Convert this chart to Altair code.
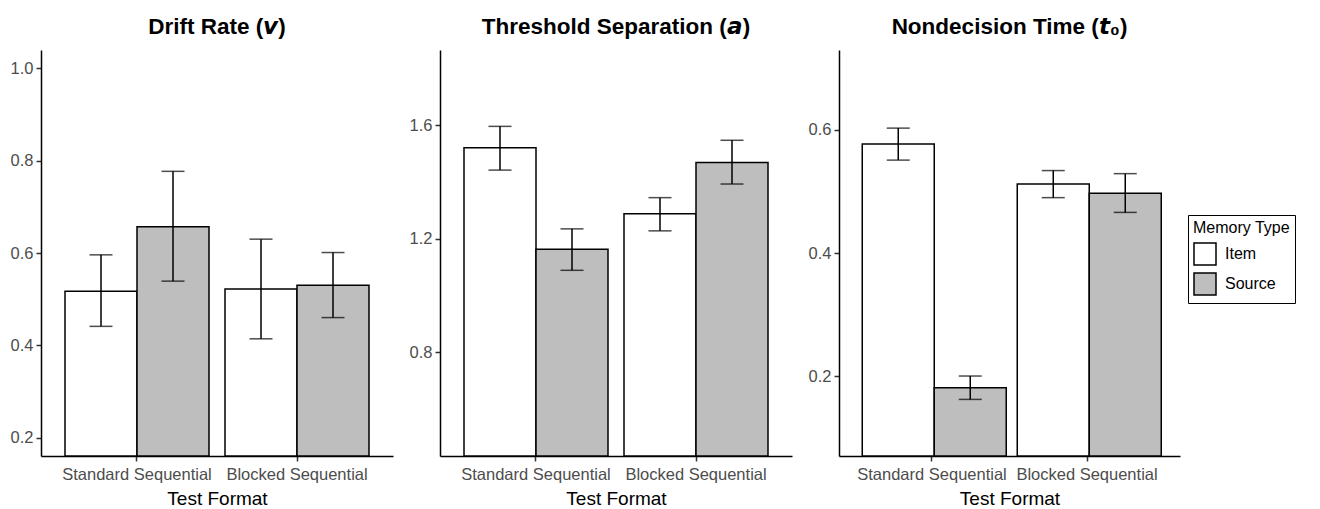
import altair as alt
import pandas as pd

# ---- data ----
formats = ["Standard Sequential", "Blocked Sequential"]
memory_types = ["Item", "Source"]
fmt_col = ["Standard Sequential", "Standard Sequential", "Blocked Sequential", "Blocked Sequential"]
mem_col = ["Item", "Source", "Item", "Source"]

drift_mean = [0.517, 0.657, 0.522, 0.530]
drift_lo = [0.441, 0.539, 0.414, 0.460]
drift_hi = [0.596, 0.777, 0.630, 0.601]

thresh_mean = [1.521, 1.163, 1.288, 1.469]
thresh_lo = [1.442, 1.089, 1.228, 1.393]
thresh_hi = [1.596, 1.235, 1.345, 1.547]

t0_mean = [0.577, 0.181, 0.512, 0.497]
t0_lo = [0.551, 0.162, 0.490, 0.466]
t0_hi = [0.603, 0.200, 0.534, 0.529]

drift_ticks = [0.2, 0.4, 0.6, 0.8, 1.0]
thresh_ticks = [0.8, 1.2, 1.6]
t0_ticks = [0.2, 0.4, 0.6]

FONT = "Liberation Sans"
FILLS = ["white", "#BEBEBE"]


def panel(title, mean, lo, hi, domain, ticks, width, show_legend):
    df = pd.DataFrame({"format": fmt_col, "memory": mem_col,
                       "mean": mean, "lo": lo, "hi": hi})
    base = alt.Chart(df)
    x = alt.X("format:N", sort=formats,
              scale=alt.Scale(paddingInner=0.1, paddingOuter=0.15),
              axis=alt.Axis(title="Test Format", labelAngle=0, labelPadding=5,
                            titlePadding=7))
    xo = alt.XOffset("memory:N", sort=memory_types,
                     scale=alt.Scale(paddingInner=0, paddingOuter=0))
    yscale = alt.Scale(domain=domain, zero=False, nice=False)

    def y(field):
        return alt.Y(field, type="quantitative", stack=None, scale=yscale,
                     axis=alt.Axis(title=None, values=ticks, format=".1f"))

    if show_legend:
        legend = alt.Legend(
            title="Memory Type", orient="none", legendX=349, legendY=165,
            strokeColor="black", fillColor="white", padding=5, cornerRadius=0,
            titleFont=FONT, titleFontSize=16, titleFontWeight="normal",
            titleColor="black", titlePadding=6,
            labelFont=FONT, labelFontSize=16, labelColor="black", labelOffset=8,
            symbolType="square", symbolSize=484, symbolStrokeColor="black",
            symbolStrokeWidth=1.5, rowPadding=2)
    else:
        legend = None

    bars = base.mark_bar(clip=True, stroke="black", strokeWidth=1.5).encode(
        x=x, xOffset=xo, y=y("mean"),
        fill=alt.Fill("memory:N", sort=memory_types,
                      scale=alt.Scale(domain=memory_types, range=FILLS),
                      legend=legend))
    stems = base.mark_rule(color="black", strokeWidth=1.5).encode(
        x=x, xOffset=xo, y=y("lo"), y2="hi:Q")
    cap_hi = base.mark_tick(color="black", thickness=1.5, size=23).encode(
        x=x, xOffset=xo, y=y("hi"))
    cap_lo = base.mark_tick(color="black", thickness=1.5, size=23).encode(
        x=x, xOffset=xo, y=y("lo"))

    return alt.layer(bars, stems, cap_hi, cap_lo).properties(
        width=width, height=406,
        title=alt.TitleParams(title, font=FONT, fontSize=22.5, fontWeight="bold",
                              color="black", anchor="middle", frame="group",
                              baseline="bottom", offset=-11))


p1 = panel("Drift Rate (\U0001D66B)", drift_mean, drift_lo, drift_hi,
           [0.16, 1.04], drift_ticks, 352, False)
p2 = panel("Threshold Separation (\U0001D656)", thresh_mean, thresh_lo, thresh_hi,
           [0.435, 1.865], thresh_ticks, 352, False)
p3 = panel("Nondecision Time (\U0001D669\u2080)", t0_mean, t0_lo, t0_hi,
           [0.07, 0.73], t0_ticks, 341, True)

chart = alt.hconcat(p1, p2, p3, spacing=16).resolve_legend(
    fill="independent"
).properties(
    padding={"left": 10, "top": 15, "right": 5, "bottom": 0},
    background="white"
).configure_view(stroke=None).configure_axis(
    grid=False, domainColor="black", domainWidth=1.5,
    tickColor="#333333", tickWidth=1.5, tickSize=5,
    labelFont=FONT, labelFontSize=16.5, labelColor="#4D4D4D", labelPadding=3,
    titleFont=FONT, titleFontSize=19, titleColor="black", titleFontWeight="normal"
)

chart.save("out.html", embed_options={"renderer": "svg", "actions": False})
